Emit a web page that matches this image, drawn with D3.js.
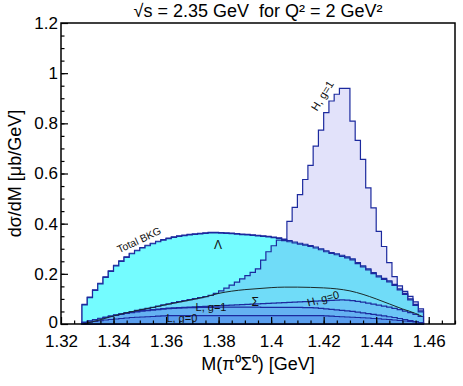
<!DOCTYPE html>
<html>
<head>
<meta charset="utf-8">
<script src="https://cdn.jsdelivr.net/npm/d3@7"></script>
<style>
  body { margin: 0; background: #fff; }
  text { font-family: "Liberation Sans", Arial, Helvetica, sans-serif; }
</style>
</head>
<body>
<div class="plot"></div>
<script>
// histogram bins: 65 bins of 2 MeV from 1.328 GeV
const binStart = 1.328;
const binWidth = 0.002;

const totalBkg = [0.076,0.105,0.134,0.160,0.186,0.210,0.232,0.250,0.266,0.280,
  0.292,0.303,0.312,0.320,0.328,0.334,0.340,0.345,0.349,0.352,
  0.355,0.357,0.359,0.361,0.363,0.363,0.362,0.361,0.360,0.358,
  0.356,0.355,0.353,0.351,0.349,0.347,0.344,0.341,0.336,0.332,
  0.327,0.322,0.318,0.313,0.307,0.300,0.292,0.285,0.280,0.274,
  0.268,0.260,0.245,0.232,0.220,0.205,0.192,0.182,0.172,0.158,
  0.140,0.122,0.100,0.078,0.052];

// H, g=1 (signal + background)
const hg1 = [0.078,0.107,0.136,0.162,0.188,0.212,0.234,0.252,0.268,0.282,
  0.294,0.305,0.314,0.322,0.330,0.336,0.342,0.347,0.351,0.354,
  0.357,0.359,0.361,0.363,0.365,0.365,0.364,0.363,0.362,0.360,
  0.358,0.357,0.355,0.353,0.351,0.349,0.346,0.343,0.338,0.409,
  0.465,0.516,0.576,0.632,0.709,0.773,0.843,0.889,0.916,0.939,
  0.939,0.809,0.732,0.656,0.543,0.463,0.369,0.309,0.245,0.189,
  0.152,0.130,0.110,0.088,0.060];

// Lambda contribution
const lambda = [0.003,0.008,0.013,0.018,0.024,0.029,0.034,0.039,0.044,0.049,
  0.054,0.058,0.062,0.066,0.071,0.076,0.080,0.085,0.089,0.093,
  0.097,0.101,0.105,0.109,0.114,0.122,0.132,0.143,0.155,0.167,
  0.180,0.193,0.206,0.220,0.255,0.288,0.312,0.334,0.332,0.328,
  0.323,0.318,0.314,0.309,0.303,0.296,0.288,0.281,0.276,0.270,
  0.264,0.256,0.241,0.228,0.216,0.201,0.188,0.178,0.168,0.154,
  0.136,0.118,0.096,0.074,0.048];

// H, g=0
const hg0 = [0.008,0.013,0.018,0.023,0.028,0.032,0.036,0.040,0.044,0.047,
  0.050,0.053,0.055,0.057,0.059,0.061,0.063,0.064,0.065,0.066,
  0.067,0.068,0.069,0.070,0.071,0.072,0.073,0.074,0.075,0.076,
  0.077,0.078,0.079,0.080,0.081,0.082,0.083,0.084,0.085,0.086,
  0.087,0.088,0.089,0.090,0.091,0.092,0.093,0.094,0.095,0.096,
  0.095,0.093,0.090,0.087,0.083,0.079,0.075,0.071,0.067,0.062,
  0.057,0.051,0.045,0.038,0.030];

// L, g=1
const lg1 = [0.006,0.011,0.016,0.021,0.026,0.030,0.034,0.038,0.042,0.045,
  0.048,0.051,0.053,0.055,0.057,0.059,0.061,0.062,0.063,0.064,
  0.065,0.065,0.066,0.066,0.066,0.067,0.067,0.067,0.067,0.067,
  0.067,0.067,0.067,0.067,0.066,0.066,0.066,0.066,0.066,0.066,
  0.066,0.066,0.065,0.065,0.064,0.062,0.060,0.058,0.056,0.054,
  0.052,0.050,0.047,0.044,0.041,0.038,0.035,0.032,0.029,0.026,
  0.022,0.018,0.014,0.010,0.006];

// L, g=0
const lg0 = [0.004,0.007,0.010,0.013,0.016,0.018,0.020,0.022,0.024,0.026,
  0.027,0.028,0.029,0.030,0.031,0.032,0.033,0.033,0.033,0.033,
  0.033,0.033,0.033,0.033,0.033,0.033,0.033,0.033,0.033,0.033,
  0.033,0.033,0.033,0.033,0.033,0.033,0.033,0.033,0.033,0.033,
  0.033,0.033,0.033,0.033,0.033,0.033,0.032,0.031,0.030,0.029,
  0.028,0.027,0.026,0.025,0.024,0.022,0.021,0.019,0.018,0.016,
  0.014,0.012,0.010,0.008,0.005];

// Sigma: smooth curve
const sigmaM = [1.3285,1.332,1.336,1.340,1.345,1.350,1.355,1.360,1.365,1.370,1.375,1.380,1.385,1.390,
  1.395,1.400,1.405,1.410,1.415,1.420,1.425,1.430,1.435,1.440,1.445,1.450,1.455,1.4575];
const sigmaV = [0.0,0.009,0.020,0.032,0.045,0.056,0.066,0.077,0.087,0.097,0.108,0.122,0.131,0.137,
  0.141,0.145,0.147,0.147,0.146,0.144,0.140,0.132,0.118,0.100,0.080,0.060,0.042,0.030];

const xTicks = [1.32,1.34,1.36,1.38,1.40,1.42,1.44,1.46];
const xTickLabels = ["1.32","1.34","1.36","1.38","1.4","1.42","1.44","1.46"];
const yTicks = [0,0.2,0.4,0.6,0.8,1,1.2];
const yTickLabels = ["0","0.2","0.4","0.6","0.8","1","1.2"];

const width = 463, height = 386;
const margin = {top: 23, right: 8, bottom: 62, left: 61};

const svg = d3.select('.plot').append('svg')
  .attr('width', width)
  .attr('height', height);

const x = d3.scaleLinear().domain([1.32, 1.47]).range([margin.left, width - margin.right]);
const y = d3.scaleLinear().domain([0, 1.2]).range([height - margin.bottom, margin.top]);

function bins(vals) {
  const pts = vals.map((v, i) => ({m: binStart + i * binWidth, v: v}));
  pts.push({m: binStart + vals.length * binWidth, v: vals[vals.length - 1]});
  return pts;
}

const area = d3.area()
  .x(d => x(d.m))
  .y0(y(0))
  .y1(d => y(d.v))
  .curve(d3.curveStepAfter);

const layers = [
  {vals: hg1, fill: "#e2e2fa"},
  {vals: totalBkg, fill: "#74fcff"},
  {vals: lambda, fill: "#70dcf8"},
  {vals: hg0, fill: "#6cc6f6"},
  {vals: lg1, fill: "#65b2f2"},
  {vals: lg0, fill: "#5a9eee"}
];

layers.forEach(l => {
  svg.append("path")
    .datum(bins(l.vals))
    .attr("d", area)
    .attr("fill", l.fill)
    .attr("stroke", "#1c2a9e")
    .attr("stroke-width", 1.2)
    .attr("stroke-linejoin", "miter");
});

// sigma curve
svg.append("path")
  .datum(sigmaM.map((m, i) => [m, sigmaV[i]]))
  .attr("d", d3.line().x(d => x(d[0])).y(d => y(d[1])).curve(d3.curveMonotoneX))
  .attr("fill", "none")
  .attr("stroke", "#1a2a2a")
  .attr("stroke-width", 1);

// axes
svg.append("g")
  .attr("transform", `translate(0,${y(0)})`)
  .call(d3.axisBottom(x).tickValues(d3.range(1.325, 1.47, 0.005)).tickSize(-3.5).tickFormat(""))
  .call(g => g.select(".domain").remove());
svg.append("g")
  .attr("transform", `translate(0,${y(0)})`)
  .call(d3.axisBottom(x).tickValues(xTicks).tickSize(-7).tickPadding(11)
    .tickFormat((d, i) => xTickLabels[i]))
  .call(g => g.select(".domain").remove())
  .call(g => g.selectAll("text").attr("font-size", 17).attr("fill", "#000")
    .attr("font-family", "'Liberation Sans', Arial, sans-serif"));

svg.append("g")
  .attr("transform", `translate(${x(1.32)},0)`)
  .call(d3.axisLeft(y).tickValues(d3.range(0.05, 1.2, 0.05)).tickSize(-3.5).tickFormat(""))
  .call(g => g.select(".domain").remove());
svg.append("g")
  .attr("transform", `translate(${x(1.32)},0)`)
  .call(d3.axisLeft(y).tickValues(yTicks).tickSize(-7).tickPadding(3)
    .tickFormat((d, i) => yTickLabels[i]))
  .call(g => g.select(".domain").remove())
  .call(g => g.selectAll("text").attr("font-size", 17).attr("fill", "#000")
    .attr("font-family", "'Liberation Sans', Arial, sans-serif")
    .attr("dy", d => d === 0 ? "0.2em" : "0.32em"));

svg.selectAll(".tick line").attr("stroke", "#000").attr("stroke-width", 1.2);

// frame
svg.append("rect")
  .attr("x", x(1.32)).attr("y", y(1.2))
  .attr("width", x(1.47) - x(1.32)).attr("height", y(0) - y(1.2))
  .attr("fill", "none").attr("stroke", "#000").attr("stroke-width", 1.5);

// titles
svg.append("text")
  .attr("x", 258).attr("y", 17)
  .attr("text-anchor", "middle").attr("font-size", 18)
  .text("\u221As = 2.35 GeV\u00A0\u00A0for Q\u00B2 = 2 GeV\u00B2");

svg.append("text")
  .attr("x", 258).attr("y", 370)
  .attr("text-anchor", "middle").attr("font-size", 18)
  .text("M(\u03C0\u2070\u03A3\u2070) [GeV]");

svg.append("text")
  .attr("transform", `translate(21,${(y(0) + y(1.2)) / 2}) rotate(-90)`)
  .attr("text-anchor", "middle").attr("font-size", 18)
  .text("d\u03C3/dM [\u03BCb/GeV]");

// curve labels
const labels = [
  {t: "Total BKG", m: 1.3497, v: 0.335, r: -25, s: 10.5},
  {t: "\u039B", m: 1.3798, v: 0.314, r: 0, s: 12},
  {t: "H, g=1", m: 1.4195, v: 0.91, r: -58, s: 11},
  {t: "\u03A3", m: 1.3939, v: 0.090, r: 0, s: 12},
  {t: "H, g=0", m: 1.4198, v: 0.102, r: -15, s: 11},
  {t: "L, g=1", m: 1.3771, v: 0.068, r: 0, s: 11},
  {t: "L, g=0", m: 1.3660, v: 0.024, r: 0, s: 11}
];
svg.selectAll("text.lbl")
  .data(labels)
  .enter()
  .append("text")
  .attr("class", "lbl")
  .attr("transform", d => `translate(${x(d.m)},${y(d.v)}) rotate(${d.r})`)
  .attr("text-anchor", "middle")
  .attr("dy", "0.35em")
  .attr("font-size", d => d.s)
  .attr("fill", "#111")
  .text(d => d.t);
</script>
</body>
</html>
